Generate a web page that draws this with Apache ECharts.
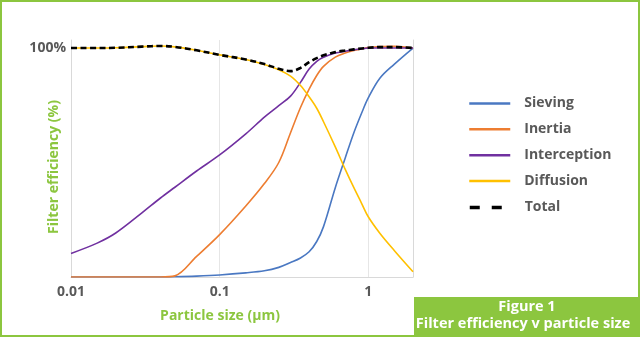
<!DOCTYPE html>
<html><head><meta charset="utf-8">
<script src="https://cdn.jsdelivr.net/npm/echarts@6/dist/echarts.min.js"></script>
<style>html,body{margin:0;padding:0;background:#fff}#c{width:640px;height:337px}</style>
</head><body><div id="c"></div>
<script>
const particleSize = [0.01,0.015,0.02,0.03,0.04,0.05,0.07,0.1,0.15,0.2,0.25,0.3,0.35,0.4,0.45,0.5,0.6,0.7,0.8,0.9,1,1.2,1.5,2];
const sieving      = [0,0,0,0,0,0.1,0.4,0.9,1.8,2.7,4.2,6.3,8.3,11,15.5,22,39,52,63,71.4,78.2,86.9,93,100];
const inertia      = [0,0,0,0,0,0.5,9,18.5,31,40.8,50,63,74,82,88,92,96,97.8,98.9,99.6,100.2,100.6,100.7,100];
const interception = [10.3,14.8,19.2,28,34.5,39.2,46.3,53.3,62.5,69.8,74.8,79,85,90.8,94.2,96,97.8,98.6,99.2,99.6,100,100,100,100];
const diffusion    = [100,100,100.1,100.6,100.9,100.5,99,97,95,92.8,90.5,87.7,83.6,78.7,73.7,67.8,56.8,47,39,32.3,26.3,19,11.5,2.3];
const total        = [100,100,100.1,100.6,100.9,100.5,99,97,95,93,90.9,89.9,91.3,93.8,95.6,96.8,98.2,98.9,99.4,99.8,100.1,100.4,100.4,100];
const seriesNames  = ['Sieving','Inertia','Interception','Diffusion','Total'];
const xTickLabels  = {0.01:'0.01',0.1:'0.1',1:'1'};
const yTickLabels  = {100:'100%'};

const GREEN = '#8cc63f';
const FONT = '"Open Sans", sans-serif';
function pairs(ys){ return particleSize.map((x,i)=>[x,ys[i]]); }
const colors = ['#4a78c2','#ed7d31','#7030a0','#ffc000','#000000'];
const datasets = [sieving, inertia, interception, diffusion, total];
const legendText = {fontSize:14,fontWeight:'bold',color:'#595959',fontFamily:FONT};

const chart = echarts.init(document.getElementById('c'), null, {renderer:'canvas'});
chart.setOption({
  animation:false,
  textStyle:{fontFamily:FONT},
  grid:{left:71,right:227,top:40,bottom:60},
  xAxis:{type:'log',logBase:10,min:0.01,max:2,
    axisLine:{show:true,lineStyle:{color:'#d9d9d9',width:1}},
    axisTick:{show:false},
    splitLine:{show:true,lineStyle:{color:'#e6e6e6',width:1}},
    axisLabel:{margin:8,fontSize:14,fontWeight:'bold',color:'#595959',fontFamily:FONT,
      showMaxLabel:false,
      formatter:v=>{ for(const k in xTickLabels){ if(Math.abs(Math.log10(v)-Math.log10(+k))<1e-6) return xTickLabels[k]; } return ''; }}
  },
  yAxis:[{type:'value',min:0,max:103.5,interval:100,
    axisLine:{show:true,lineStyle:{color:'#d9d9d9',width:1}},
    axisTick:{show:false},
    splitLine:{show:false},
    axisLabel:{margin:5,fontSize:14,fontWeight:'bold',color:'#595959',fontFamily:FONT,
      formatter:v=>yTickLabels[v]||''}
  },{type:'value',min:0,max:103.5,position:'right',
    axisLine:{show:true,lineStyle:{color:'#d9d9d9',width:1}},
    axisTick:{show:false},splitLine:{show:false},axisLabel:{show:false}}],
  legend:[{orient:'vertical',left:463,top:91.5,itemWidth:41,itemHeight:14,itemGap:11.85,
    data:seriesNames.slice(0,4),
    itemStyle:{opacity:0},lineStyle:{width:2.5},
    textStyle:Object.assign({padding:[0,0,0,9]},legendText)},
   {orient:'vertical',left:463,top:195.5,itemWidth:33,itemHeight:14,
    data:[{name:'Total',lineStyle:{type:[10,12],width:3.5,color:'#000'}}],
    itemStyle:{opacity:0},
    textStyle:Object.assign({padding:[0,0,0,17]},legendText)}],
  series:seriesNames.map((n,i)=>({
    name:n,type:'line',data:pairs(datasets[i]),smooth:0.35,showSymbol:false,symbol:'none',
    z: i===4?5:2,
    lineStyle:{color:colors[i],width:i===4?2.6:1.6,type:i===4?[6,3.5]:'solid'},
    itemStyle:{color:colors[i]}
  })),
  graphic:[
    {type:'rect',shape:{x:1,y:1,width:638,height:335},style:{fill:'none',stroke:GREEN,lineWidth:2},z:10},
    {type:'rect',shape:{x:414,y:297,width:226,height:40},style:{fill:GREEN},z:9},
    {type:'text',x:527,y:307,style:{text:'Figure 1',fill:'#fff',font:'bold 14.5px '+FONT,textAlign:'center',textVerticalAlign:'middle'},z:11},
    {type:'text',x:523,y:324,style:{text:'Filter efficiency v particle size',fill:'#fff',font:'bold 14.5px '+FONT,textAlign:'center',textVerticalAlign:'middle'},z:11},
    {type:'text',x:220,y:316,style:{text:'Particle size (µm)',fill:GREEN,font:'bold 14px '+FONT,textAlign:'center',textVerticalAlign:'middle'}},
    {type:'text',x:54,y:167,rotation:Math.PI/2,style:{text:'Filter efficiency (%)',fill:GREEN,font:'bold 14px '+FONT,textAlign:'center',textVerticalAlign:'middle'}}
  ]
});
</script></body></html>
